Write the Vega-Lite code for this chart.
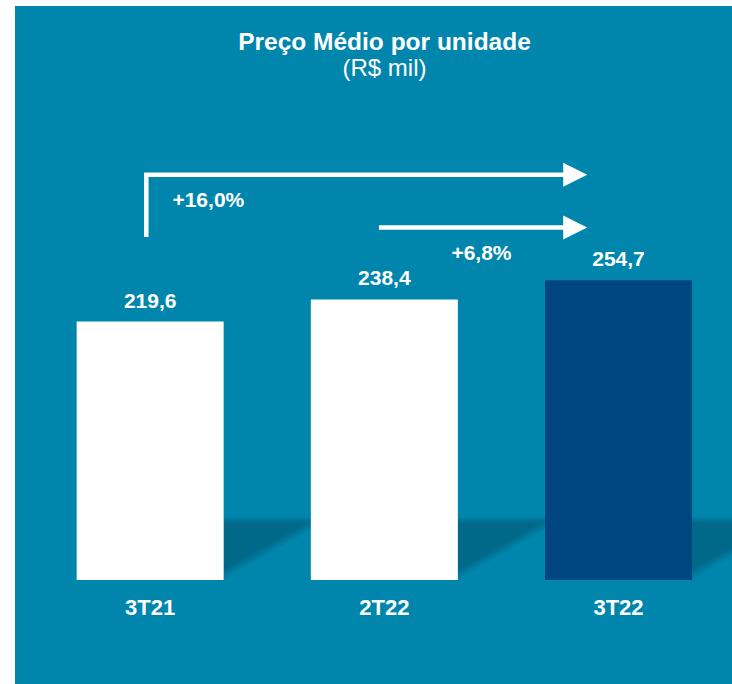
{
  "$schema": "https://vega.github.io/schema/vega-lite/v6.json",
  "width": 717,
  "height": 678,
  "autosize": "none",
  "padding": {"left": 15, "top": 6, "right": 0, "bottom": 0},
  "background": "#FFFFFF",
  "config": {
    "view": {"fill": "#0086AD", "stroke": null},
    "font": "Liberation Sans"
  },
  "title": {
    "text": "Preço Médio por unidade",
    "subtitle": "(R$ mil)",
    "color": "#FFFFFF",
    "font": "Liberation Sans",
    "fontSize": 24.5,
    "fontWeight": "bold",
    "subtitleColor": "#FFFFFF",
    "subtitleFont": "Liberation Sans",
    "subtitleFontSize": 24,
    "subtitleFontWeight": "normal",
    "anchor": "middle",
    "frame": "group",
    "orient": "top",
    "dx": 11,
    "offset": -76,
    "subtitlePadding": 2
  },
  "datasets": {
    "barras": [
      {"periodo": "3T21", "idx": 0, "valor": 219.6, "rotulo": "219,6", "destaque": "anterior"},
      {"periodo": "2T22", "idx": 1, "valor": 238.4, "rotulo": "238,4", "destaque": "anterior"},
      {"periodo": "3T22", "idx": 2, "valor": 254.7, "rotulo": "254,7", "destaque": "atual"}
    ],
    "setas": [
      {"seta": "a", "ordem": 1, "idx": -0.0165, "valor": 291.4},
      {"seta": "a", "ordem": 2, "idx": -0.0165, "valor": 344.3},
      {"seta": "a", "ordem": 3, "idx": 1.815, "valor": 344.3},
      {"seta": "b", "ordem": 1, "idx": 0.9768, "valor": 299.4},
      {"seta": "b", "ordem": 2, "idx": 1.815, "valor": 299.4}
    ],
    "pontas": [
      {"seta": "a", "idx": 1.815, "valor": 344.3},
      {"seta": "b", "idx": 1.815, "valor": 299.4}
    ],
    "variacoes": [
      {"texto": "+16,0%", "idx": 0.2484, "valor": 321.6},
      {"texto": "+6,8%", "idx": 1.4147, "valor": 277}
    ]
  },
  "layer": [
    {
      "data": {"name": "barras"},
      "mark": {
        "type": "bar",
        "width": 89,
        "xOffset": 118,
        "clip": true,
        "fill": {
          "gradient": "linear",
          "x1": 0, "y1": 0, "x2": 0.63, "y2": 0.78,
          "stops": [
            {"offset": 0, "color": "#00698A"},
            {"offset": 0.64, "color": "#00698A"},
            {"offset": 0.78, "color": "#0086AD"},
            {"offset": 1, "color": "#0086AD"}
          ]
        }
      },
      "encoding": {
        "x": {"field": "idx", "type": "quantitative", "scale": {"domain": [-0.5558, 2.4632], "nice": false, "zero": false}, "axis": null},
        "y": {"datum": 53, "type": "quantitative", "scale": {"domain": [-88.4, 487.7], "nice": false, "zero": false}, "axis": null},
        "y2": {"datum": 0}
      }
    },
    {
      "data": {"name": "barras"},
      "mark": {
        "type": "bar",
        "width": 89,
        "xOffset": 118,
        "clip": true,
        "fill": {
          "gradient": "linear",
          "x1": 0, "y1": 0, "x2": 0, "y2": 1,
          "stops": [
            {"offset": 0, "color": "rgba(0,134,173,1)"},
            {"offset": 1, "color": "rgba(0,134,173,0)"}
          ]
        }
      },
      "encoding": {
        "x": {"field": "idx", "type": "quantitative", "axis": null},
        "y": {"datum": 55, "type": "quantitative", "axis": null},
        "y2": {"datum": 48}
      }
    },
    {
      "data": {"name": "barras"},
      "mark": {"type": "bar", "width": 147},
      "encoding": {
        "x": {"field": "idx", "type": "quantitative", "axis": null},
        "y": {"field": "valor", "type": "quantitative", "axis": null},
        "y2": {"datum": 0},
        "color": {"field": "destaque", "type": "nominal", "scale": {"domain": ["anterior", "atual"], "range": ["#FFFFFF", "#00467F"]}, "legend": null}
      }
    },
    {
      "data": {"name": "barras"},
      "mark": {"type": "text", "color": "#FFFFFF", "fontSize": 21, "fontWeight": "bold", "baseline": "alphabetic", "align": "center", "dy": -14},
      "encoding": {
        "x": {"field": "idx", "type": "quantitative"},
        "y": {"field": "valor", "type": "quantitative"},
        "text": {"field": "rotulo"}
      }
    },
    {
      "data": {"name": "barras"},
      "mark": {"type": "text", "color": "#FFFFFF", "fontSize": 22, "fontWeight": "bold", "baseline": "alphabetic", "align": "center", "dy": 35},
      "encoding": {
        "x": {"field": "idx", "type": "quantitative"},
        "y": {"datum": 0, "type": "quantitative"},
        "text": {"field": "periodo"}
      }
    },
    {
      "data": {"name": "setas"},
      "mark": {"type": "line", "color": "#FFFFFF", "strokeWidth": 4.5, "strokeJoin": "miter", "strokeCap": "butt"},
      "encoding": {
        "x": {"field": "idx", "type": "quantitative"},
        "y": {"field": "valor", "type": "quantitative"},
        "detail": {"field": "seta"},
        "order": {"field": "ordem"}
      }
    },
    {
      "data": {"name": "pontas"},
      "mark": {"type": "point", "shape": "M1,0L-1,-1L-1,1Z", "size": 576, "filled": true, "color": "#FFFFFF", "opacity": 1, "strokeWidth": 0},
      "encoding": {
        "x": {"field": "idx", "type": "quantitative"},
        "y": {"field": "valor", "type": "quantitative"}
      }
    },
    {
      "data": {"name": "variacoes"},
      "mark": {"type": "text", "color": "#FFFFFF", "fontSize": 21, "fontWeight": "bold", "baseline": "middle", "align": "center"},
      "encoding": {
        "x": {"field": "idx", "type": "quantitative"},
        "y": {"field": "valor", "type": "quantitative"},
        "text": {"field": "texto"}
      }
    }
  ]
}
